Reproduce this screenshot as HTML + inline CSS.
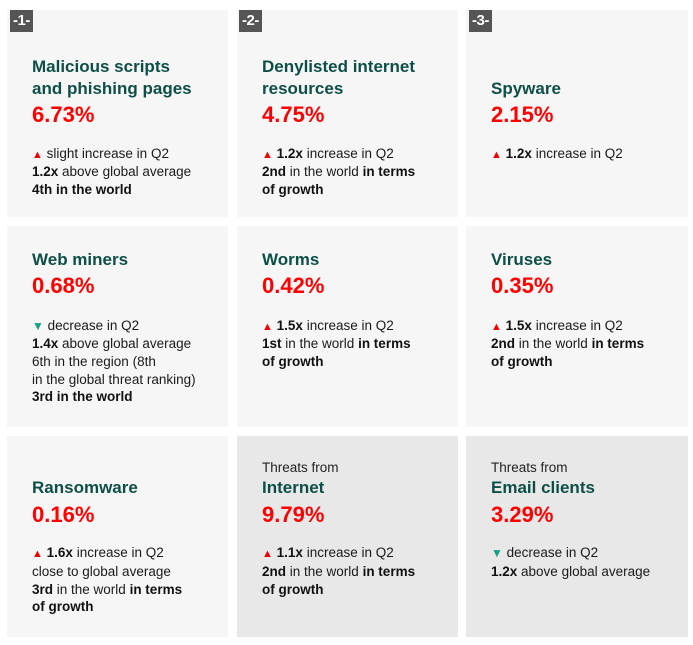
<!DOCTYPE html>
<html><head><meta charset="utf-8"><style>
body{margin:0;width:693px;height:645px;background:#fff;font-family:"Liberation Sans",sans-serif;position:relative;overflow:hidden}
.cell{position:absolute;background:#f6f6f6}
.cell.dark{background:#e8e8e8}
.badge{position:absolute;background:#555;color:#fff;font-weight:bold;font-size:15px;line-height:22px;height:22px;padding:0 3px;letter-spacing:-0.5px}
.l{position:absolute;white-space:nowrap;height:18px;line-height:18px;font-size:13.5px;color:#1a1a1a}
.t{font-size:17px;font-weight:bold;color:#0d4f47;height:22px;line-height:22px}
.p{font-size:22px;font-weight:bold;color:#f00;height:26px;line-height:26px}
.s{font-size:13.5px;color:#222}
.up{color:#e00;font-size:11px}
.dn{color:#17a085;font-size:12px}
b{color:#111}
</style></head><body>
<div class="cell" style="left:7px;top:10px;width:221px;height:207px"></div>
<div class="cell" style="left:237px;top:10px;width:221px;height:207px"></div>
<div class="cell" style="left:466px;top:10px;width:222px;height:207px"></div>
<div class="cell" style="left:7px;top:226px;width:221px;height:201px"></div>
<div class="cell" style="left:237px;top:226px;width:221px;height:201px"></div>
<div class="cell" style="left:466px;top:226px;width:222px;height:201px"></div>
<div class="cell" style="left:7px;top:436px;width:221px;height:201px"></div>
<div class="cell dark" style="left:237px;top:436px;width:221px;height:201px"></div>
<div class="cell dark" style="left:466px;top:436px;width:222px;height:201px"></div>

<div class="badge" style="left:10px;top:10px">-1-</div>
<div class="badge" style="left:239px;top:10px">-2-</div>
<div class="badge" style="left:469px;top:10px">-3-</div>

<!-- col1 row1 -->
<div class="l t" style="left:32px;top:56px">Malicious scripts</div>
<div class="l t" style="left:32px;top:78px">and phishing pages</div>
<div class="l p" style="left:32px;top:102px">6.73%</div>
<div class="l" style="left:32px;top:145px"><span class="up">▲</span> slight increase in Q2</div>
<div class="l" style="left:32px;top:163px"><b>1.2x</b> above global average</div>
<div class="l" style="left:32px;top:181px"><b>4th in the world</b></div>
<!-- col2 row1 -->
<div class="l t" style="left:262px;top:56px">Denylisted internet</div>
<div class="l t" style="left:262px;top:78px">resources</div>
<div class="l p" style="left:262px;top:102px">4.75%</div>
<div class="l" style="left:262px;top:145px"><span class="up">▲</span> <b>1.2x</b> increase in Q2</div>
<div class="l" style="left:262px;top:163px"><b>2nd</b> in the world <b>in terms</b></div>
<div class="l" style="left:262px;top:181px"><b>of growth</b></div>
<!-- col3 row1 -->
<div class="l t" style="left:491px;top:78px">Spyware</div>
<div class="l p" style="left:491px;top:102px">2.15%</div>
<div class="l" style="left:491px;top:145px"><span class="up">▲</span> <b>1.2x</b> increase in Q2</div>
<!-- row2 -->
<div class="l t" style="left:32px;top:249px">Web miners</div>
<div class="l p" style="left:32px;top:273px">0.68%</div>
<div class="l" style="left:32px;top:317px"><span class="dn">▼</span> decrease in Q2</div>
<div class="l" style="left:32px;top:335px"><b>1.4x</b> above global average</div>
<div class="l" style="left:32px;top:353px">6th in the region (8th</div>
<div class="l" style="left:32px;top:371px">in the global threat ranking)</div>
<div class="l" style="left:32px;top:388px"><b>3rd in the world</b></div>

<div class="l t" style="left:262px;top:249px">Worms</div>
<div class="l p" style="left:262px;top:273px">0.42%</div>
<div class="l" style="left:262px;top:317px"><span class="up">▲</span> <b>1.5x</b> increase in Q2</div>
<div class="l" style="left:262px;top:335px"><b>1st</b> in the world <b>in terms</b></div>
<div class="l" style="left:262px;top:353px"><b>of growth</b></div>

<div class="l t" style="left:491px;top:249px">Viruses</div>
<div class="l p" style="left:491px;top:273px">0.35%</div>
<div class="l" style="left:491px;top:317px"><span class="up">▲</span> <b>1.5x</b> increase in Q2</div>
<div class="l" style="left:491px;top:335px"><b>2nd</b> in the world <b>in terms</b></div>
<div class="l" style="left:491px;top:353px"><b>of growth</b></div>
<!-- row3 -->
<div class="l t" style="left:32px;top:477px">Ransomware</div>
<div class="l p" style="left:32px;top:502px">0.16%</div>
<div class="l" style="left:32px;top:544px"><span class="up">▲</span> <b>1.6x</b> increase in Q2</div>
<div class="l" style="left:32px;top:563px">close to global average</div>
<div class="l" style="left:32px;top:581px"><b>3rd</b> in the world <b>in terms</b></div>
<div class="l" style="left:32px;top:598px"><b>of growth</b></div>

<div class="l s" style="left:262px;top:459px">Threats from</div>
<div class="l t" style="left:262px;top:477px">Internet</div>
<div class="l p" style="left:262px;top:502px">9.79%</div>
<div class="l" style="left:262px;top:544px"><span class="up">▲</span> <b>1.1x</b> increase in Q2</div>
<div class="l" style="left:262px;top:563px"><b>2nd</b> in the world <b>in terms</b></div>
<div class="l" style="left:262px;top:581px"><b>of growth</b></div>

<div class="l s" style="left:491px;top:459px">Threats from</div>
<div class="l t" style="left:491px;top:477px">Email clients</div>
<div class="l p" style="left:491px;top:502px">3.29%</div>
<div class="l" style="left:491px;top:544px"><span class="dn">▼</span> decrease in Q2</div>
<div class="l" style="left:491px;top:563px"><b>1.2x</b> above global average</div>
</body></html>
